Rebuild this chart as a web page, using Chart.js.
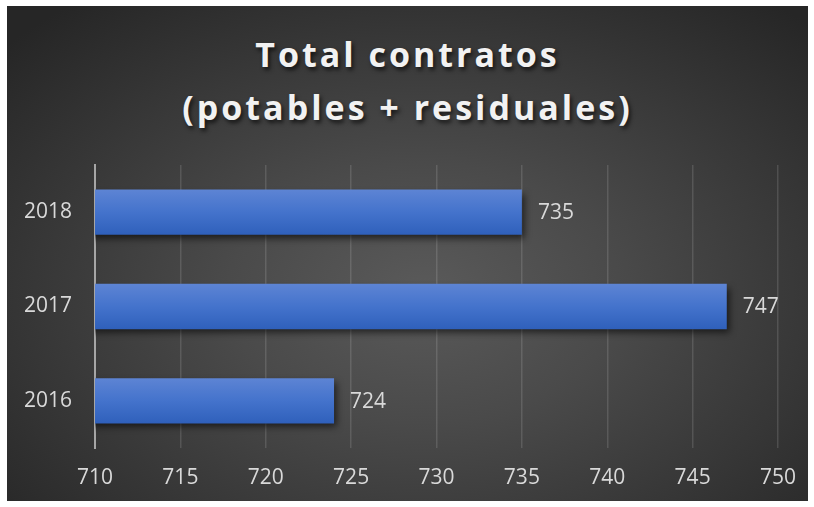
<!DOCTYPE html>
<html>
<head>
<meta charset="utf-8">
<script src="https://cdn.jsdelivr.net/npm/chart.js@4.4.1/dist/chart.umd.min.js"></script>
<style>
  html, body { margin: 0; padding: 0; background: #ffffff; }
  #wrap { position: relative; width: 814px; height: 507px; overflow: hidden; }
  #bg { position: absolute; left: 7px; top: 6px; width: 801px; height: 495px;
        background: radial-gradient(ellipse 70% 75% at 52% 58%, #5a5a5a 0%, #4a4a4a 35%, #262626 100%); }
  #title { position: absolute; left: 7px; top: 28px; width: 801px; text-align: center;
           font-family: "Open Sans", "Noto Sans", sans-serif; font-weight: 700; font-size: 34px;
           line-height: 53px; letter-spacing: 3px; color: #f2f2f2;
           text-shadow: 2px 3px 4px rgba(0,0,0,0.65); }
  canvas { position: absolute; left: 0; top: 0; }
</style>
</head>
<body>
<div id="wrap">
  <div id="bg"></div>
  <div id="title">Total contratos<br>(potables + residuales)</div>
  <canvas id="c" width="814" height="507"></canvas>
</div>
<script>
const categories = ["2018", "2017", "2016"];
const values = [735, 747, 724];
const xTicks = [710, 715, 720, 725, 730, 735, 740, 745, 750];

const labelColor = "#d9d9d9";
const fontFamily = '"Open Sans", "Noto Sans", sans-serif';

function barGradient(ctx) {
  const chart = ctx.chart;
  const y = chart.scales && chart.scales.y;
  if (!y || !chart.chartArea) return "#4472c4";
  const center = y.getPixelForValue(ctx.dataIndex);
  const band = (chart.chartArea.bottom - chart.chartArea.top) / categories.length;
  const h = band * 0.48;
  const g = chart.ctx.createLinearGradient(0, center - h / 2, 0, center + h / 2);
  g.addColorStop(0, "#5d84d4");
  g.addColorStop(0.5, "#4473cc");
  g.addColorStop(1, "#2f60bb");
  return g;
}

const shadowPlugin = {
  id: "barShadow",
  beforeDatasetsDraw(chart) {
    const c = chart.ctx;
    c.save();
    c.shadowColor = "rgba(0,0,0,0.6)";
    c.shadowBlur = 7;
    c.shadowOffsetX = 3;
    c.shadowOffsetY = 4;
  },
  afterDatasetsDraw(chart) {
    chart.ctx.restore();
  }
};

const valueLabels = {
  id: "valueLabels",
  afterDatasetsDraw(chart) {
    const c = chart.ctx;
    const meta = chart.getDatasetMeta(0);
    c.save();
    c.font = "21px " + fontFamily;
    c.fillStyle = labelColor;
    c.textAlign = "left";
    c.textBaseline = "middle";
    meta.data.forEach((bar, i) => {
      c.fillText(String(values[i]), bar.x + 16, bar.y + 1);
    });
    c.restore();
  }
};

new Chart(document.getElementById("c"), {
  type: "bar",
  data: {
    labels: categories,
    datasets: [{
      data: values,
      backgroundColor: barGradient,
      borderWidth: 0,
      categoryPercentage: 1.0,
      barPercentage: 0.48
    }]
  },
  options: {
    indexAxis: "y",
    responsive: false,
    animation: false,
    events: [],
    layout: { padding: { left: 0, right: 36, top: 165, bottom: 0 } },
    plugins: { legend: { display: false }, tooltip: { enabled: false }, title: { display: false } },
    scales: {
      x: {
        min: 710, max: 750,
        afterBuildTicks(scale) { scale.ticks = xTicks.map(v => ({ value: v })); },
        afterFit(scale) { scale.height = 59; },
        grid: { color: "rgba(255,255,255,0.13)", lineWidth: 1.5, drawTicks: false },
        border: { display: false },
        ticks: { color: labelColor, padding: 17, font: { family: fontFamily, size: 21 } }
      },
      y: {
        afterFit(scale) { scale.width = 95; },
        grid: { display: false, drawTicks: false },
        border: { display: true, color: "#a6a6a6", width: 2 },
        ticks: { color: labelColor, padding: 23, font: { family: fontFamily, size: 21 } }
      }
    }
  },
  plugins: [shadowPlugin, valueLabels]
});
</script>
</body>
</html>
